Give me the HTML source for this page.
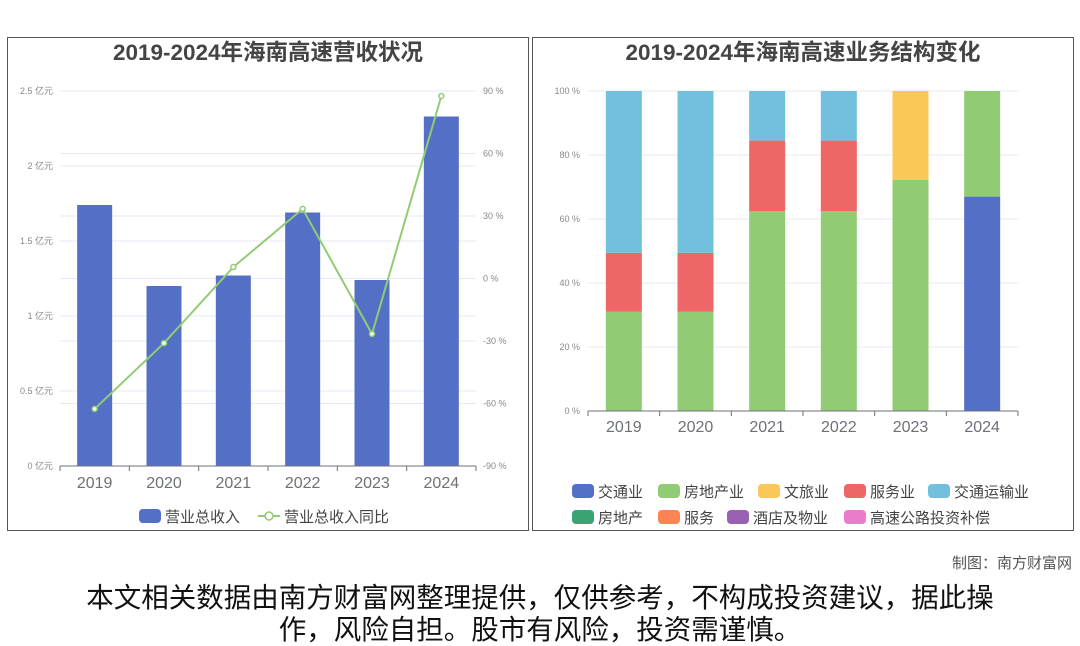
<!DOCTYPE html>
<html><head><meta charset="utf-8"><style>
body{margin:0;width:1080px;height:646px;background:#fff;overflow:hidden;font-family:"Liberation Sans","Noto Sans CJK SC",sans-serif}
svg{position:absolute;left:0;top:0}
</style></head><body>
<svg id="s" width="1080" height="646" font-family="Liberation Sans, Noto Sans CJK SC, sans-serif">
<rect x="7.5" y="37.5" width="521" height="493" fill="#fff" stroke="#555"/>
<rect x="532.5" y="37.5" width="541" height="493" fill="#fff" stroke="#555"/>
<text x="268" y="60" text-anchor="middle" font-size="22.5" font-weight="bold" fill="#444">2019-2024年海南高速营收状况</text>
<text x="803" y="60" text-anchor="middle" font-size="22.5" font-weight="bold" fill="#444">2019-2024年海南高速业务结构变化</text>
<g id="L"></g><g id="R"></g>
<text x="1072" y="568" text-anchor="end" font-size="15" fill="#555">制图：南方财富网</text>
<text x="540" y="607" text-anchor="middle" font-size="27.5" fill="#111">本文相关数据由南方财富网整理提供，仅供参考，不构成投资建议，据此操</text>
<text x="540" y="639" text-anchor="middle" font-size="27.5" fill="#111">作，风险自担。股市有风险，投资需谨慎。</text>
</svg>
<script>
const years=['2019','2020','2021','2022','2023','2024'];
const revenue=[1.74,1.20,1.27,1.69,1.24,2.33];
const growth=[-62.6,-31,5.5,33.4,-26.6,87.6];
const leftTicks=[0,0.5,1,1.5,2,2.5];
const rightTicks=[-90,-60,-30,0,30,60,90];
const segNames=['交通业','房地产业','文旅业','服务业','交通运输业','房地产','服务','酒店及物业','高速公路投资补偿'];
const segColors=['#5470c6','#91cc75','#fac858','#ee6666','#73c0de','#3ba272','#fc8452','#9a60b4','#ea7ccc'];
const s0=[0,0,0,0,0,67];
const s1=[31,31,62.5,62.5,72.2,33];
const s2=[0,0,0,0,27.8,0];
const s3=[18.4,18.4,22,22,0,0];
const s4=[50.6,50.6,15.5,15.5,0,0];
const pctTicks=[0,20,40,60,80,100];
const NS='http://www.w3.org/2000/svg';
function el(p,t,a,txt){const e=document.createElementNS(NS,t);for(const k in a)e.setAttribute(k,a[k]);if(txt!=null)e.textContent=txt;p.appendChild(e);return e;}
// left
const L=document.getElementById('L');
const lx0=60,lx1=476,ly0=466,ly1=91,bw=(lx1-lx0)/6;
const yL=v=>ly0-(v/2.5)*(ly0-ly1);
const yR=v=>ly0-((v+90)/180)*(ly0-ly1);
const xC=(i,x0,w)=>x0+w*(i+0.5);
rightTicks.forEach(t=>{const g=el(L,'line',{x1:lx0,x2:lx1,y1:yR(t),y2:yR(t),stroke:'#e6e9f4'});

const tx=el(L,'text',{x:483,y:yR(t)+3,'font-size':9,fill:'#888'},t+' %');
});
leftTicks.forEach(t=>{const g=el(L,'line',{x1:lx0,x2:lx1,y1:yL(t),y2:yL(t),stroke:'#e6e9f4'});

const tx=el(L,'text',{x:53,y:yL(t)+3,'font-size':9,fill:'#888','text-anchor':'end'},t+' 亿元');
});
revenue.forEach((v,i)=>{const r=el(L,'rect',{x:xC(i,lx0,bw)-17.5,y:yL(v),width:35,height:ly0-yL(v),fill:'#5470c6'});
});
el(L,'line',{x1:lx0,x2:lx1,y1:ly0,y2:ly0,stroke:'#6e7079'});
years.forEach((y,i)=>{el(L,'line',{x1:lx0+bw*i,x2:lx0+bw*i,y1:ly0,y2:ly0+5,stroke:'#6e7079'});
const t=el(L,'text',{x:xC(i,lx0,bw),y:488,'font-size':16,fill:'#6e7079','text-anchor':'middle'},y);
});
el(L,'line',{x1:lx1,x2:lx1,y1:ly0,y2:ly0+5,stroke:'#6e7079'});
const pl=el(L,'polyline',{points:growth.map((v,i)=>xC(i,lx0,bw)+','+yR(v)).join(' '),fill:'none',stroke:'#91cc75','stroke-width':2});

growth.forEach((v,i)=>{const c=el(L,'circle',{cx:xC(i,lx0,bw),cy:yR(v),r:2.5,fill:'#fff',stroke:'#91cc75','stroke-width':1.5});
});
let lg=el(L,'rect',{x:139,y:509,width:22,height:14,rx:4,fill:'#5470c6'});

el(L,'text',{x:165,y:522,'font-size':15,fill:'#444'},'营业总收入');
el(L,'line',{x1:258,x2:280,y1:516,y2:516,stroke:'#91cc75','stroke-width':2});
lg=el(L,'circle',{cx:269,cy:516,r:4,fill:'#fff',stroke:'#91cc75','stroke-width':1.5});

el(L,'text',{x:284,y:522,'font-size':15,fill:'#444'},'营业总收入同比');
// right
const R=document.getElementById('R');
const rx0=588,rx1=1018,ry0=411,ry1=91,rbw=(rx1-rx0)/6;
const yP=v=>ry0-v/100*(ry0-ry1);
pctTicks.forEach(t=>{const g=el(R,'line',{x1:rx0,x2:rx1,y1:yP(t),y2:yP(t),stroke:'#e6e9f4'});

const tx=el(R,'text',{x:580,y:yP(t)+3,'font-size':9,fill:'#888','text-anchor':'end'},t+' %');
});
const series=[s0,s1,s2,s3,s4];
years.forEach((y,i)=>{let acc=0;series.forEach((s,k)=>{const v=s[i];if(v>0){const r=el(R,'rect',{x:xC(i,rx0,rbw)-18,y:yP(acc+v),width:36,height:yP(acc)-yP(acc+v),fill:segColors[k]});
}acc+=v;});});
el(R,'line',{x1:rx0,x2:rx1,y1:ry0,y2:ry0,stroke:'#6e7079'});
years.forEach((y,i)=>{el(R,'line',{x1:rx0+rbw*i,x2:rx0+rbw*i,y1:ry0,y2:ry0+5,stroke:'#6e7079'});
const t=el(R,'text',{x:xC(i,rx0,rbw),y:432,'font-size':16,fill:'#6e7079','text-anchor':'middle'},y);
});
el(R,'line',{x1:rx1,x2:rx1,y1:ry0,y2:ry0+5,stroke:'#6e7079'});
const lgx=[572,658,758,844,928,572,658,727,844];
segNames.forEach((n,k)=>{const yy=k<5?484:510;
const r=el(R,'rect',{x:lgx[k],y:yy,width:22,height:14,rx:4,fill:segColors[k]});

el(R,'text',{x:lgx[k]+26,y:yy+13,'font-size':15,fill:'#444'},n);});
</script>
</body></html>
